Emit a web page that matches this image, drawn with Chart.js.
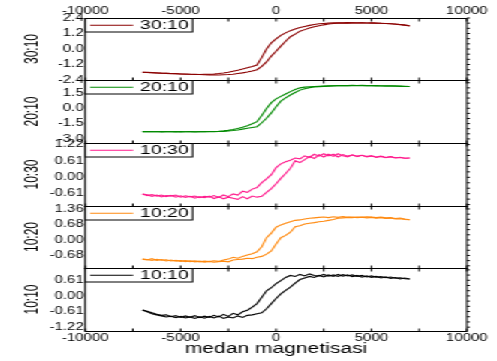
<!DOCTYPE html>
<html>
<head>
<meta charset="utf-8">
<script src="https://cdn.jsdelivr.net/npm/chart.js@4.4.1/dist/chart.umd.min.js"></script>
<style>
  html, body { margin: 0; padding: 0; background: #fff; overflow: hidden; }
  /* the source picture is stretched sideways, so draw narrow and widen */
  #stage { position: absolute; left: 0; top: 0; width: 331px; height: 361px;
           transform: scaleX(1.5015); transform-origin: 0 0; }
  #stage canvas { position: absolute; left: 0; top: 0; }
</style>
</head>
<body>
<div id="stage">
  <canvas id="p1" width="331" height="361"></canvas>
  <canvas id="p2" width="331" height="361"></canvas>
  <canvas id="p3" width="331" height="361"></canvas>
  <canvas id="p4" width="331" height="361"></canvas>
  <canvas id="p5" width="331" height="361"></canvas>
</div>
<script>
// medan (field) values shared by every loop
const field = [-7000,-6750,-6500,-6250,-6000,-5750,-5500,-5250,-5000,-4750,
  -4500,-4250,-4000,-3750,-3500,-3250,-3000,-2750,-2500,-2250,
  -2000,-1750,-1500,-1250,-1000,-750,-500,-250,0,250,
  500,750,1000,1250,1500,1750,2000,2250,2500,2750,
  3000,3250,3500,3750,4000,4250,4500,4750,5000,5250,
  5500,5750,6000,6250,6500,6750,7000];

const samples = ['30:10', '20:10', '10:30', '10:20', '10:10'];

// 30:10
const up3010 = [-1.80,-1.82,-1.84,-1.85,-1.87,-1.88,-1.90,-1.91,-1.93,-1.94,
  -1.96,-1.97,-1.98,-1.99,-2.00,-2.00,-2.01,-1.99,-1.98,-1.95,
  -1.90,-1.85,-1.78,-1.70,-1.60,-1.35,-1.00,-0.55,-0.18,0.22,
  0.60,0.95,1.15,1.38,1.50,1.62,1.72,1.80,1.87,1.93,
  1.97,2.00,2.01,2.00,2.02,2.01,2.02,2.01,2.00,2.01,
  1.99,1.98,1.96,1.93,1.90,1.85,1.79];
const down3010 = [-1.80,-1.81,-1.83,-1.86,-1.88,-1.89,-1.91,-1.92,-1.93,-1.95,
  -1.96,-1.96,-1.97,-1.96,-1.95,-1.93,-1.90,-1.86,-1.80,-1.72,
  -1.64,-1.55,-1.45,-1.36,-1.24,-0.65,0.00,0.48,0.78,1.05,
  1.25,1.42,1.55,1.66,1.75,1.83,1.90,1.95,1.98,2.00,
  2.02,2.03,2.02,2.04,2.02,2.03,2.02,2.01,2.02,2.00,
  1.99,1.97,1.95,1.92,1.89,1.85,1.80];

// 20:10
const up2010 = [-2.29,-2.27,-2.30,-2.28,-2.31,-2.29,-2.30,-2.28,-2.31,-2.30,
  -2.29,-2.31,-2.30,-2.28,-2.30,-2.29,-2.27,-2.26,-2.23,-2.18,
  -2.12,-2.04,-1.96,-1.88,-1.80,-1.42,-0.98,-0.45,0.15,0.70,
  1.02,1.30,1.55,1.78,1.92,2.02,2.08,2.12,2.15,2.17,
  2.19,2.20,2.21,2.22,2.21,2.22,2.21,2.20,2.20,2.19,
  2.18,2.17,2.17,2.16,2.15,2.14,2.13];
const down2010 = [-2.29,-2.28,-2.29,-2.30,-2.28,-2.30,-2.29,-2.31,-2.29,-2.30,
  -2.28,-2.30,-2.29,-2.30,-2.28,-2.27,-2.25,-2.21,-2.16,-2.08,
  -1.98,-1.85,-1.70,-1.52,-1.31,-0.70,-0.02,0.55,0.92,1.16,
  1.40,1.63,1.84,2.00,2.07,2.11,2.13,2.15,2.17,2.19,
  2.21,2.22,2.23,2.22,2.24,2.23,2.24,2.22,2.23,2.22,
  2.21,2.21,2.20,2.19,2.18,2.16,2.13];

// 10:30
const up1030 = [-0.62,-0.68,-0.64,-0.70,-0.66,-0.72,-0.67,-0.74,-0.69,-0.75,
  -0.71,-0.78,-0.72,-0.76,-0.70,-0.79,-0.73,-0.80,-0.74,-0.78,
  -0.82,-0.72,-0.80,-0.70,-0.74,-0.71,-0.56,-0.42,-0.24,-0.04,
  0.14,0.34,0.62,0.55,0.66,0.78,0.70,0.84,0.76,0.86,
  0.78,0.88,0.80,0.76,0.84,0.79,0.82,0.76,0.80,0.74,
  0.78,0.73,0.77,0.72,0.75,0.71,0.72];
const down1030 = [-0.62,-0.65,-0.71,-0.66,-0.73,-0.68,-0.70,-0.66,-0.74,-0.69,
  -0.73,-0.70,-0.76,-0.71,-0.74,-0.68,-0.75,-0.66,-0.72,-0.62,
  -0.66,-0.52,-0.56,-0.44,-0.38,-0.20,-0.06,0.10,0.36,0.50,
  0.58,0.64,0.72,0.69,0.80,0.74,0.86,0.79,0.88,0.80,
  0.86,0.76,0.85,0.79,0.83,0.77,0.82,0.78,0.80,0.76,
  0.79,0.74,0.77,0.73,0.74,0.71,0.72];

// 10:20
const up1020 = [-0.84,-0.88,-0.82,-0.90,-0.86,-0.92,-0.88,-0.93,-0.90,-0.95,
  -0.91,-0.96,-0.93,-0.97,-0.94,-0.98,-0.95,-0.93,-0.96,-0.88,
  -0.86,-0.84,-0.80,-0.82,-0.76,-0.72,-0.62,-0.48,-0.18,0.10,
  0.20,0.34,0.58,0.62,0.70,0.73,0.76,0.80,0.82,0.86,
  0.90,0.95,0.97,0.99,0.98,1.01,0.99,1.02,1.00,0.98,
  1.00,0.97,0.98,0.94,0.96,0.92,0.89];
const down1020 = [-0.84,-0.86,-0.90,-0.85,-0.89,-0.87,-0.92,-0.89,-0.94,-0.90,
  -0.95,-0.92,-0.96,-0.93,-0.95,-0.91,-0.94,-0.88,-0.84,-0.76,
  -0.80,-0.72,-0.66,-0.60,-0.52,-0.30,0.10,0.30,0.56,0.66,
  0.73,0.80,0.86,0.88,0.92,0.95,0.97,0.99,1.01,0.98,
  1.02,0.99,1.03,1.00,1.01,0.98,1.00,0.97,0.99,0.96,
  0.98,0.94,0.96,0.92,0.93,0.90,0.89];

// 10:10
const up1010 = [-0.55,-0.62,-0.70,-0.74,-0.78,-0.82,-0.79,-0.85,-0.80,-0.86,
  -0.82,-0.88,-0.81,-0.87,-0.80,-0.86,-0.79,-0.88,-0.82,-0.86,
  -0.78,-0.84,-0.76,-0.74,-0.70,-0.66,-0.50,-0.30,-0.10,0.08,
  0.22,0.34,0.50,0.64,0.70,0.76,0.72,0.80,0.74,0.82,
  0.76,0.84,0.77,0.82,0.75,0.80,0.73,0.78,0.72,0.76,
  0.70,0.74,0.68,0.72,0.66,0.70,0.66];
const down1010 = [-0.55,-0.60,-0.66,-0.72,-0.76,-0.74,-0.81,-0.77,-0.84,-0.78,
  -0.83,-0.77,-0.85,-0.79,-0.84,-0.76,-0.82,-0.72,-0.80,-0.68,
  -0.74,-0.62,-0.56,-0.44,-0.30,-0.05,0.20,0.32,0.48,0.60,
  0.72,0.80,0.76,0.84,0.78,0.86,0.80,0.78,0.84,0.77,
  0.82,0.76,0.83,0.78,0.82,0.76,0.80,0.74,0.78,0.73,
  0.76,0.71,0.74,0.69,0.71,0.67,0.66];

const upBranches = [up3010, up2010, up1030, up1020, up1010];
const downBranches = [down3010, down2010, down1030, down1020, down1010];

// axis limits and tick labels
const yMin = [-2.4, -3.4, -1.07, -1.23, -1.37];
const yMax = [2.4, 2.77, 1.28, 1.49, 1.09];
const yTicks = [
  [-2.4, -1.2, 0, 1.2, 2.4],
  [-3.0, -1.5, 0, 1.5],
  [-0.61, 0, 0.61, 1.22],
  [-0.68, 0, 0.68, 1.36],
  [-1.22, -0.61, 0, 0.61]
];
const yDecimals = [1, 1, 2, 2, 2];
const xTicks = [-10000, -5000, 0, 5000, 10000];

const lineColors = ['#8b0000', '#008a00', '#ff1a8c', '#ff8a10', '#000000'];

// page layout (drawing units, before the sideways stretch)
const H = 361;
const panelTop = [18, 80, 143, 206, 268];
const panelBottom = [80, 143, 206, 268, 331];
const axisWidth = 56.7;
const rightPad = 20;

Chart.defaults.font.family = "'Liberation Sans', Arial, sans-serif";
Chart.defaults.color = '#000';

function toPoints(values) {
    return values.map((v, i) => ({ x: field[i], y: v }));
}

// frame, small ticks and the boxed legend of each panel
const framePlugin = {
    id: 'frame',
    afterDatasetsDraw(chart, args, opts) {
        const { ctx, chartArea: a } = chart;
        const xs = chart.scales.x;
        const ys = chart.scales.y;
        const top = Math.round(a.top) + 0.5;
        const bottom = Math.round(a.bottom) + 0.5;
        ctx.save();
        ctx.strokeStyle = '#000';
        ctx.lineWidth = 1;
        ctx.strokeRect(a.left, top, a.right - a.left, bottom - top);

        ctx.beginPath();
        for (let v = -10000; v <= 10000; v += 2500) {
            const px = xs.getPixelForValue(v);
            ctx.moveTo(px, top);
            ctx.lineTo(px, top + 3);
            ctx.moveTo(px, bottom);
            ctx.lineTo(px, bottom - 3);
        }
        const step = opts.minor;
        for (let k = Math.ceil(ys.min / step); k <= Math.floor(ys.max / step); k++) {
            const py = ys.getPixelForValue(k * step);
            ctx.moveTo(a.right, py);
            ctx.lineTo(a.right + 2, py);
        }
        ctx.stroke();

        // legend box
        const bx = a.left, by = top, bw = 71.5, bh = 13.5;
        ctx.fillStyle = '#fff';
        ctx.fillRect(bx, by, bw, bh);
        ctx.strokeRect(bx, by, bw, bh);
        ctx.strokeStyle = opts.color;
        ctx.beginPath();
        ctx.moveTo(bx + 3.3, by + bh / 2);
        ctx.lineTo(bx + 32, by + bh / 2);
        ctx.stroke();
        ctx.fillStyle = '#000';
        ctx.font = "13px 'Liberation Sans', Arial, sans-serif";
        ctx.textBaseline = 'middle';
        ctx.textAlign = 'left';
        ctx.fillText(opts.label, bx + 36.5, by + bh / 2 + 0.5);
        ctx.restore();
    }
};

function makePanel(i) {
    const isTop = i === 0;
    const isBottom = i === samples.length - 1;
    const ticks = yTicks[i];
    const canvas = document.getElementById('p' + (i + 1));

    new Chart(canvas, {
        type: 'line',
        data: {
            datasets: [
                { data: toPoints(upBranches[i]), borderColor: lineColors[i], borderWidth: 1.1,
                  pointRadius: 0, tension: 0, fill: false },
                { data: toPoints(downBranches[i]), borderColor: lineColors[i], borderWidth: 1.1,
                  pointRadius: 0, tension: 0, fill: false }
            ]
        },
        options: {
            responsive: false,
            animation: false,
            events: [],
            layout: {
                padding: {
                    left: 0,
                    right: rightPad,
                    top: isTop ? 0 : panelTop[i],
                    bottom: isBottom ? 0 : H - panelBottom[i]
                }
            },
            plugins: {
                legend: { display: false },
                tooltip: { enabled: false },
                frame: { label: samples[i], color: lineColors[i], minor: (ticks[1] - ticks[0]) / 3 }
            },
            scales: {
                x: {
                    type: 'linear',
                    position: isTop ? 'top' : 'bottom',
                    min: -10000,
                    max: 10000,
                    afterBuildTicks: s => { s.ticks = xTicks.map(v => ({ value: v })); },
                    afterFit: s => {
                        s.height = isTop ? panelTop[0] : (isBottom ? H - panelBottom[i] : 0);
                    },
                    ticks: {
                        display: isTop || isBottom,
                        padding: 1,
                        autoSkip: false,
                        maxRotation: 0,
                        font: { size: 10 },
                        callback: v => String(v)
                    },
                    grid: { display: false, drawTicks: false },
                    border: { display: false },
                    title: {
                        display: isBottom,
                        text: 'medan magnetisasi',
                        font: { size: 14 },
                        padding: { top: 0, bottom: 3 }
                    }
                },
                y: {
                    min: yMin[i],
                    max: yMax[i],
                    afterBuildTicks: s => { s.ticks = ticks.map(v => ({ value: v })); },
                    afterFit: s => { s.width = axisWidth; },
                    ticks: {
                        padding: 1,
                        autoSkip: false,
                        font: { size: 10 },
                        callback: v => v.toFixed(yDecimals[i])
                    },
                    grid: { display: false, drawTicks: false },
                    border: { display: false },
                    title: {
                        display: true,
                        text: samples[i],
                        font: { size: 12 },
                        padding: { top: 14, bottom: 0 }
                    }
                }
            }
        },
        plugins: [framePlugin]
    });
}

document.addEventListener('DOMContentLoaded', function() {
    samples.forEach((s, i) => makePanel(i));
});
</script>
</body>
</html>
